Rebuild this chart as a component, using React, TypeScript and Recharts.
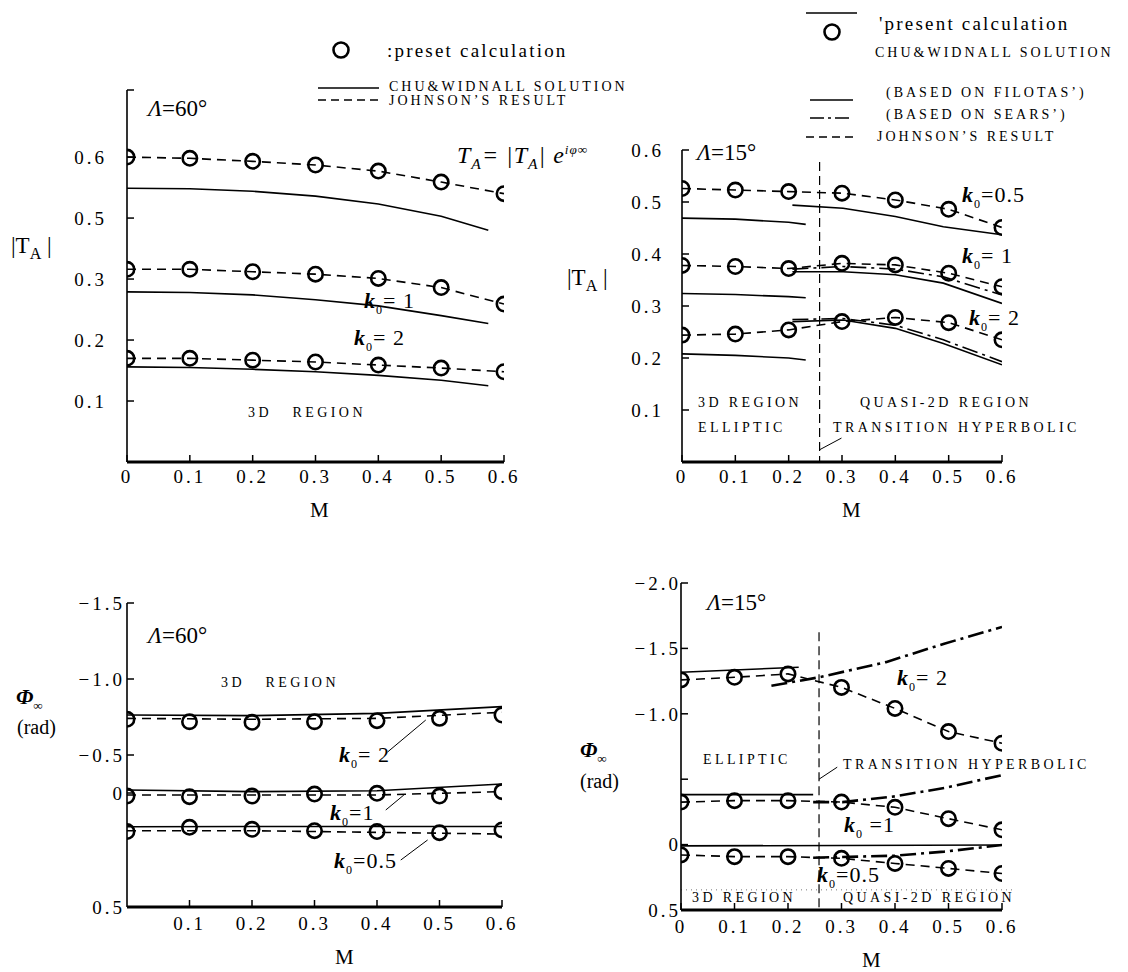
import React from 'react';
import { LineChart, Line, XAxis, YAxis, ReferenceLine } from 'recharts';

const W = 1128;
const H = 972;
const YW = 60;
const XH = 40;
const SERIF = '"Liberation Serif", "DejaVu Serif", serif';

// Mach numbers of the computed points
const M7 = [0, 0.1, 0.2, 0.3, 0.4, 0.5, 0.6];

// |T_A|, sweep 60 deg (present calculation = Johnson's result)
const tA60K05 = [0.6, 0.598, 0.593, 0.587, 0.577, 0.559, 0.54];
const tA60K1 = [0.316, 0.316, 0.312, 0.308, 0.301, 0.286, 0.259];
const tA60K2 = [0.17, 0.17, 0.167, 0.164, 0.159, 0.154, 0.148];
const chu60M = [0, 0.1, 0.2, 0.3, 0.4, 0.5, 0.575];
const chu60K05 = [0.549, 0.548, 0.544, 0.536, 0.523, 0.503, 0.48];
const chu60K1 = [0.279, 0.278, 0.274, 0.266, 0.256, 0.24, 0.227];
const chu60K2 = [0.156, 0.155, 0.152, 0.148, 0.142, 0.134, 0.125];
// the printed axis skips 0.4 between 0.3 and 0.5
const tA60TickPos = [0.1, 0.2, 0.3, 0.4, 0.5, 0.61];
const tA60TickLbl = ['0.1', '0.2', '0.3', '0.5', '0.6', ''];

// |T_A|, sweep 15 deg
const tA15K05 = [0.526, 0.523, 0.52, 0.517, 0.504, 0.486, 0.451];
const tA15K1 = [0.378, 0.376, 0.372, 0.382, 0.379, 0.363, 0.337];
const tA15K2 = [0.244, 0.246, 0.254, 0.27, 0.278, 0.268, 0.235];
const fil15M3d = [0, 0.1, 0.2, 0.232];
const fil15K05a = [0.469, 0.467, 0.461, 0.457];
const fil15K1a = [0.324, 0.322, 0.318, 0.316];
const fil15K2a = [0.208, 0.205, 0.2, 0.196];
const fil15Mq = [0.207, 0.302, 0.4, 0.49, 0.6];
const fil15K05b = [0.494, 0.488, 0.472, 0.4525, 0.437];
const fil15K1b = [0.366, 0.366, 0.36, 0.344, 0.305];
const fil15K2b = [0.27, 0.273, 0.257, 0.228, 0.187];
const sea15K1 = [0.371, 0.376, 0.371, 0.356, 0.321];
const sea15K2 = [0.274, 0.276, 0.263, 0.235, 0.193];
const tA15Ticks = [0, 0.1, 0.2, 0.3, 0.4, 0.5, 0.6];
const tA15Lbl = ['', '0.1', '0.2', '0.3', '0.4', '0.5', '0.6'];

// phase, sweep 60 deg
const ph60K2 = [-0.735, -0.719, -0.715, -0.719, -0.726, -0.741, -0.763];
const ph60K1 = [-0.23, -0.226, -0.23, -0.243, -0.248, -0.23, -0.259];
const ph60K05 = [0.004, -0.024, -0.011, -0.002, 0.004, 0.011, -0.007];
const ph60LineM = [0, 0.2, 0.4, 0.6];
const joh60K2 = [-0.741, -0.735, -0.741, -0.781];
const joh60K1 = [-0.237, -0.237, -0.237, -0.259];
const joh60K05 = [-0.002, -0.002, 0.009, 0.02];
const chuPh60K2 = [-0.763, -0.759, -0.774, -0.818];
const chuPh60K1 = [-0.27, -0.259, -0.265, -0.309];
const chuPh60K05 = [-0.028, -0.03, -0.03, -0.03];
const ph60Ticks = [-1.5, -1.0, -0.5, -0.25, 0.5];
const ph60Lbl = ['\u22121.5', '\u22121.0', '\u22120.5', '0', '0.5'];

// phase, sweep 15 deg
const ph15K2 = [-1.259, -1.279, -1.305, -1.202, -1.041, -0.864, -0.775];
const ph15K1 = [-0.325, -0.336, -0.336, -0.325, -0.285, -0.198, -0.113];
const ph15K05 = [0.079, 0.092, 0.092, 0.105, 0.144, 0.182, 0.221];
const chuPh15K2M = [0, 0.1, 0.22];
const chuPh15K2 = [-1.318, -1.335, -1.356];
const chuPh15K1M = [0, 0.247];
const chuPh15K1 = [-0.382, -0.382];
const chuPh15K05M = [0, 0.6];
const chuPh15K05 = [0.01, 0.003];
const seaPh15K2M = [0.169, 0.258, 0.383, 0.492, 0.6];
const seaPh15K2 = [-1.215, -1.279, -1.395, -1.536, -1.664];
const seaPh15K1M = [0.247, 0.302, 0.4, 0.492, 0.6];
const seaPh15K1 = [-0.325, -0.325, -0.369, -0.433, -0.531];
const seaPh15K05M = [0.247, 0.4, 0.492, 0.6];
const seaPh15K05 = [0.1, 0.085, 0.054, 0.003];
const ph15Ticks = [-2.0, -1.5, -1.0, -0.5, 0, 0.5];
const ph15Lbl = ['\u22122.0', '\u22121.5', '\u22121.0', '', '0', '0.5'];

const xTicksAll = [0, 0.1, 0.2, 0.3, 0.4, 0.5, 0.6];
const xTicksNoZero = [0.1, 0.2, 0.3, 0.4, 0.5, 0.6];
const M_TRANSITION = 0.258;

const pts = (ms: number[], vs: number[]) => ms.map((m, i) => ({ m, v: vs[i] }));
const warp60 = (v: number) => (v > 0.4 ? v - 0.1 : v);

const circleDot = { r: 7.2, stroke: '#000', strokeWidth: 2.6, fill: 'none', strokeDasharray: 'none' };

const solid = (key: string, data: any[], yKey: any = 'v') => (
  <Line key={key} data={data} dataKey={yKey} stroke="#000" strokeWidth={1.6} dot={false} activeDot={false} isAnimationActive={false} />
);
const dashedCircles = (key: string, data: any[], yKey: any = 'v') => (
  <Line key={key} data={data} dataKey={yKey} stroke="#000" strokeWidth={1.6} strokeDasharray="9 6" dot={circleDot} activeDot={false} isAnimationActive={false} />
);
const dashed = (key: string, data: any[]) => (
  <Line key={key} data={data} dataKey="v" stroke="#000" strokeWidth={1.6} strokeDasharray="9 6" dot={false} activeDot={false} isAnimationActive={false} />
);
const circlesOnly = (key: string, data: any[]) => (
  <Line key={key} data={data} dataKey="v" stroke="none" dot={circleDot} activeDot={false} isAnimationActive={false} />
);
const dashDot = (key: string, data: any[], w = 1.6) => (
  <Line key={key} data={data} dataKey="v" stroke="#000" strokeWidth={w} strokeDasharray="16 5 3 5" dot={false} activeDot={false} isAnimationActive={false} />
);

type FrameProps = {
  x0: number; x1: number; top: number; bottom: number;
  yDomain: [number, number]; yTicks: number[]; yLabels: string[];
  reversed?: boolean; xTicks: number[]; yGap: number; xGap: number;
  children: React.ReactNode;
};

function Frame({ x0, x1, top, bottom, yDomain, yTicks, yLabels, reversed, xTicks, yGap, xGap, children }: FrameProps) {
  const fmtY = (v: number) => {
    const i = yTicks.findIndex((t) => Math.abs(t - v) < 1e-9);
    return i >= 0 ? yLabels[i] : '';
  };
  const tickStyle = { fill: '#000', fontSize: 19, fontFamily: SERIF, letterSpacing: 3 };
  return (
    <div style={{ position: 'absolute', left: 0, top: 0 }}>
      <LineChart width={W} height={H} margin={{ top, right: W - x1, bottom: H - bottom - XH, left: x0 - YW }}>
        <XAxis
          type="number"
          dataKey="m"
          domain={[0, 0.6]}
          ticks={xTicks}
          interval={0}
          height={XH}
          allowDataOverflow
          tickFormatter={(v: number) => (v === 0 ? '0' : v.toFixed(1))}
          axisLine={{ stroke: '#000', strokeWidth: 3 }}
          tickLine={{ stroke: '#000', strokeWidth: 1.5 }}
          tickSize={-7}
          tickMargin={7 + xGap}
          tick={tickStyle}
        />
        <YAxis
          type="number"
          domain={yDomain}
          ticks={yTicks}
          interval={0}
          reversed={reversed}
          width={YW}
          allowDataOverflow
          tickFormatter={fmtY}
          axisLine={{ stroke: '#000', strokeWidth: 1.6 }}
          tickLine={{ stroke: '#000', strokeWidth: 1.5 }}
          tickSize={-7}
          tickMargin={7 + yGap}
          tick={tickStyle}
        />
        {children}
      </LineChart>
    </div>
  );
}

function T({ x, y, size = 18, children, style }: { x: number; y: number; size?: number; children: React.ReactNode; style?: React.CSSProperties }) {
  return (
    <div
      style={{
        position: 'absolute', left: x, top: y, transform: 'translateY(-50%)',
        fontSize: size, lineHeight: 1, fontFamily: SERIF, whiteSpace: 'nowrap', color: '#000', ...style,
      }}
    >
      {children}
    </div>
  );
}

const CAPS: React.CSSProperties = { letterSpacing: 3 };
const REG: React.CSSProperties = { letterSpacing: 3.4 };
const SMALL: React.CSSProperties = { letterSpacing: 2.2 };

const K = ({ v }: { v: string }) => (
  <span style={{ letterSpacing: 1 }}>
    <b><i>k</i></b>
    <sub style={{ fontSize: '0.55em' }}>0</sub>
    {v}
  </span>
);
const Lam = ({ v }: { v: string }) => (
  <>
    <i>Λ</i>={v}°
  </>
);
const TA = () => (
  <>
    |T<sub style={{ fontSize: '0.7em' }}>A</sub> |
  </>
);
const Phi = () => (
  <>
    <b><i>Φ</i></b>
    <sub style={{ fontSize: '0.6em' }}>∞</sub>
  </>
);

export default function App() {
  return (
    <div style={{ position: 'absolute', left: 0, top: 0, width: W, height: H, background: '#fff', overflow: 'hidden' }}>
      {/* top-left: |T_A|, sweep 60 */}
      <Frame x0={127} x1={504} top={90} bottom={462} yDomain={[0, 0.61]} yTicks={tA60TickPos} yLabels={tA60TickLbl} xTicks={xTicksAll} yGap={20} xGap={8}>
        {solid('c05', pts(chu60M, chu60K05), (d: any) => warp60(d.v))}
        {solid('c1', pts(chu60M, chu60K1), (d: any) => warp60(d.v))}
        {solid('c2', pts(chu60M, chu60K2), (d: any) => warp60(d.v))}
        {dashedCircles('p05', pts(M7, tA60K05), (d: any) => warp60(d.v))}
        {dashedCircles('p1', pts(M7, tA60K1), (d: any) => warp60(d.v))}
        {dashedCircles('p2', pts(M7, tA60K2), (d: any) => warp60(d.v))}
      </Frame>

      {/* top-right: |T_A|, sweep 15 */}
      <Frame x0={682} x1={1002} top={150} bottom={462} yDomain={[0, 0.6]} yTicks={tA15Ticks} yLabels={tA15Lbl} xTicks={xTicksAll} yGap={18} xGap={8}>
        <ReferenceLine segment={[{ x: M_TRANSITION, y: 0.577 }, { x: M_TRANSITION, y: 0 }]} stroke="#000" strokeWidth={1.2} strokeDasharray="9 5" />
        <ReferenceLine segment={[{ x: 0.257, y: 0.023 }, { x: 0.299, y: 0.046 }]} stroke="#000" strokeWidth={1} />
        {solid('fa05', pts(fil15M3d, fil15K05a))}
        {solid('fa1', pts(fil15M3d, fil15K1a))}
        {solid('fa2', pts(fil15M3d, fil15K2a))}
        {solid('fb05', pts(fil15Mq, fil15K05b))}
        {solid('fb1', pts(fil15Mq, fil15K1b))}
        {solid('fb2', pts(fil15Mq, fil15K2b))}
        {dashDot('s1', pts(fil15Mq, sea15K1))}
        {dashDot('s2', pts(fil15Mq, sea15K2))}
        {dashedCircles('p05', pts(M7, tA15K05))}
        {dashedCircles('p1', pts(M7, tA15K1))}
        {dashedCircles('p2', pts(M7, tA15K2))}
      </Frame>

      {/* bottom-left: phase, sweep 60 */}
      <Frame x0={127} x1={502} top={603} bottom={907} yDomain={[-1.5, 0.5]} yTicks={ph60Ticks} yLabels={ph60Lbl} reversed xTicks={xTicksNoZero} yGap={2} xGap={10}>
        <ReferenceLine segment={[{ x: 0.417, y: -0.52 }, { x: 0.478, y: -0.73 }]} stroke="#000" strokeWidth={1} />
        <ReferenceLine segment={[{ x: 0.414, y: -0.138 }, { x: 0.443, y: -0.237 }]} stroke="#000" strokeWidth={1} />
        <ReferenceLine segment={[{ x: 0.438, y: 0.191 }, { x: 0.481, y: 0.059 }]} stroke="#000" strokeWidth={1} />
        {solid('c2', pts(ph60LineM, chuPh60K2))}
        {solid('c1', pts(ph60LineM, chuPh60K1))}
        {solid('c05', pts(ph60LineM, chuPh60K05))}
        {dashed('j2', pts(ph60LineM, joh60K2))}
        {dashed('j1', pts(ph60LineM, joh60K1))}
        {dashed('j05', pts(ph60LineM, joh60K05))}
        {circlesOnly('p2', pts(M7, ph60K2))}
        {circlesOnly('p1', pts(M7, ph60K1))}
        {circlesOnly('p05', pts(M7, ph60K05))}
      </Frame>

      {/* bottom-right: phase, sweep 15 */}
      <Frame x0={681} x1={1002} top={583} bottom={910} yDomain={[-2.0, 0.5]} yTicks={ph15Ticks} yLabels={ph15Lbl} reversed xTicks={xTicksAll} yGap={0} xGap={10}>
        <ReferenceLine segment={[{ x: M_TRANSITION, y: -1.623 }, { x: M_TRANSITION, y: 0.5 }]} stroke="#000" strokeWidth={1.2} strokeDasharray="9 5" />
        <ReferenceLine segment={[{ x: 0.258, y: -0.5 }, { x: 0.292, y: -0.592 }]} stroke="#000" strokeWidth={1} />
        <ReferenceLine segment={[{ x: 0, y: 0.346 }, { x: 0.62, y: 0.346 }]} stroke="#777" strokeWidth={1} strokeDasharray="1 4" ifOverflow="visible" />
        {solid('c2', pts(chuPh15K2M, chuPh15K2))}
        {solid('c1', pts(chuPh15K1M, chuPh15K1))}
        {solid('c05', pts(chuPh15K05M, chuPh15K05))}
        {dashDot('s2', pts(seaPh15K2M, seaPh15K2), 2.6)}
        {dashDot('s1', pts(seaPh15K1M, seaPh15K1), 2.6)}
        {dashDot('s05', pts(seaPh15K05M, seaPh15K05), 2.6)}
        {dashedCircles('p2', pts(M7, ph15K2))}
        {dashedCircles('p1', pts(M7, ph15K1))}
        {dashedCircles('p05', pts(M7, ph15K05))}
      </Frame>

      {/* legend graphics */}
      <svg width={W} height={H} style={{ position: 'absolute', left: 0, top: 0, pointerEvents: 'none' }}>
        <circle cx={341} cy={50} r={7.5} fill="none" stroke="#000" strokeWidth={2.6} />
        <line x1={318} x2={379} y1={88} y2={88} stroke="#000" strokeWidth={1.5} />
        <line x1={318} x2={379} y1={100} y2={100} stroke="#000" strokeWidth={1.5} strokeDasharray="8 5" />
        <line x1={806} x2={857} y1={13} y2={13} stroke="#000" strokeWidth={1.3} />
        <circle cx={832} cy={32} r={7.5} fill="none" stroke="#000" strokeWidth={2.6} />
        <line x1={810} x2={853} y1={100} y2={100} stroke="#000" strokeWidth={1.5} />
        <line x1={810} x2={853} y1={118} y2={118} stroke="#000" strokeWidth={1.5} strokeDasharray="14 4 3 4" />
        <line x1={806} x2={857} y1={137} y2={137} stroke="#000" strokeWidth={1.5} strokeDasharray="8 5" />
      </svg>

      {/* top-left texts */}
      <T x={387} y={50} size={19} style={SMALL}>:preset calculation</T>
      <T x={389} y={86.5} size={14} style={CAPS}>CHU&amp;WIDNALL SOLUTION</T>
      <T x={389} y={101} size={14} style={CAPS}>JOHNSON’S RESULT</T>
      <T x={148} y={108} size={23}><Lam v="60" /></T>
      <T x={457} y={157} size={24} style={{ fontStyle: 'italic', letterSpacing: 1 }}>
        T<sub style={{ fontSize: '0.65em' }}>A</sub>= |T<sub style={{ fontSize: '0.65em' }}>A</sub>| e<sup style={{ fontSize: '0.55em' }}>iφ∞</sup>
      </T>
      <T x={11} y={248} size={23}><TA /></T>
      <T x={364} y={303} size={22}><K v="= 1" /></T>
      <T x={354} y={340} size={22}><K v="= 2" /></T>
      <T x={248} y={413} size={14} style={REG}>3D&nbsp;&nbsp;&nbsp;REGION</T>
      <T x={310} y={510} size={21}>M</T>

      {/* top-right texts */}
      <T x={879} y={23} size={19} style={SMALL}>'present calculation</T>
      <T x={875} y={53} size={14} style={CAPS}>CHU&amp;WIDNALL SOLUTION</T>
      <T x={886} y={93} size={14} style={CAPS}>(BASED ON FILOTAS’)</T>
      <T x={886} y={115} size={14} style={CAPS}>(BASED ON SEARS’)</T>
      <T x={877} y={137} size={14} style={CAPS}>JOHNSON’S RESULT</T>
      <T x={697} y={152} size={23}><Lam v="15" /></T>
      <T x={962} y={197} size={22}><K v="=0.5" /></T>
      <T x={962} y={258} size={22}><K v="= 1" /></T>
      <T x={969} y={320} size={22}><K v="= 2" /></T>
      <T x={567} y={280} size={23}><TA /></T>
      <T x={698} y={403} size={14} style={REG}>3D REGION</T>
      <T x={698} y={428} size={14} style={REG}>ELLIPTIC</T>
      <T x={860} y={403} size={14} style={REG}>QUASI-2D REGION</T>
      <T x={833} y={428} size={14} style={REG}>TRANSITION HYPERBOLIC</T>
      <T x={842} y={510} size={21}>M</T>

      {/* bottom-left texts */}
      <T x={148} y={635} size={23}><Lam v="60" /></T>
      <T x={221} y={683} size={14} style={REG}>3D&nbsp;&nbsp;&nbsp;REGION</T>
      <T x={16} y={699} size={22}><Phi /></T>
      <T x={17} y={727} size={20}>(rad)</T>
      <T x={339} y={757} size={22}><K v="= 2" /></T>
      <T x={330} y={815} size={22}><K v="=1" /></T>
      <T x={334} y={863} size={22}><K v="=0.5" /></T>
      <T x={335} y={957} size={21}>M</T>

      {/* bottom-right texts */}
      <T x={707} y={602} size={23}><Lam v="15" /></T>
      <T x={897} y={680} size={22}><K v="= 2" /></T>
      <T x={580} y={752} size={22}><Phi /></T>
      <T x={580} y={781} size={20}>(rad)</T>
      <T x={703} y={760} size={14} style={REG}>ELLIPTIC</T>
      <T x={843} y={765} size={14} style={REG}>TRANSITION HYPERBOLIC</T>
      <T x={844} y={827} size={22}><K v=" =1" /></T>
      <T x={817} y={877} size={22}><K v="=0.5" /></T>
      <T x={692} y={898} size={14} style={REG}>3D REGION</T>
      <T x={843} y={898} size={14} style={REG}>QUASI-2D REGION</T>
      <T x={862} y={960} size={21}>M</T>
    </div>
  );
}
